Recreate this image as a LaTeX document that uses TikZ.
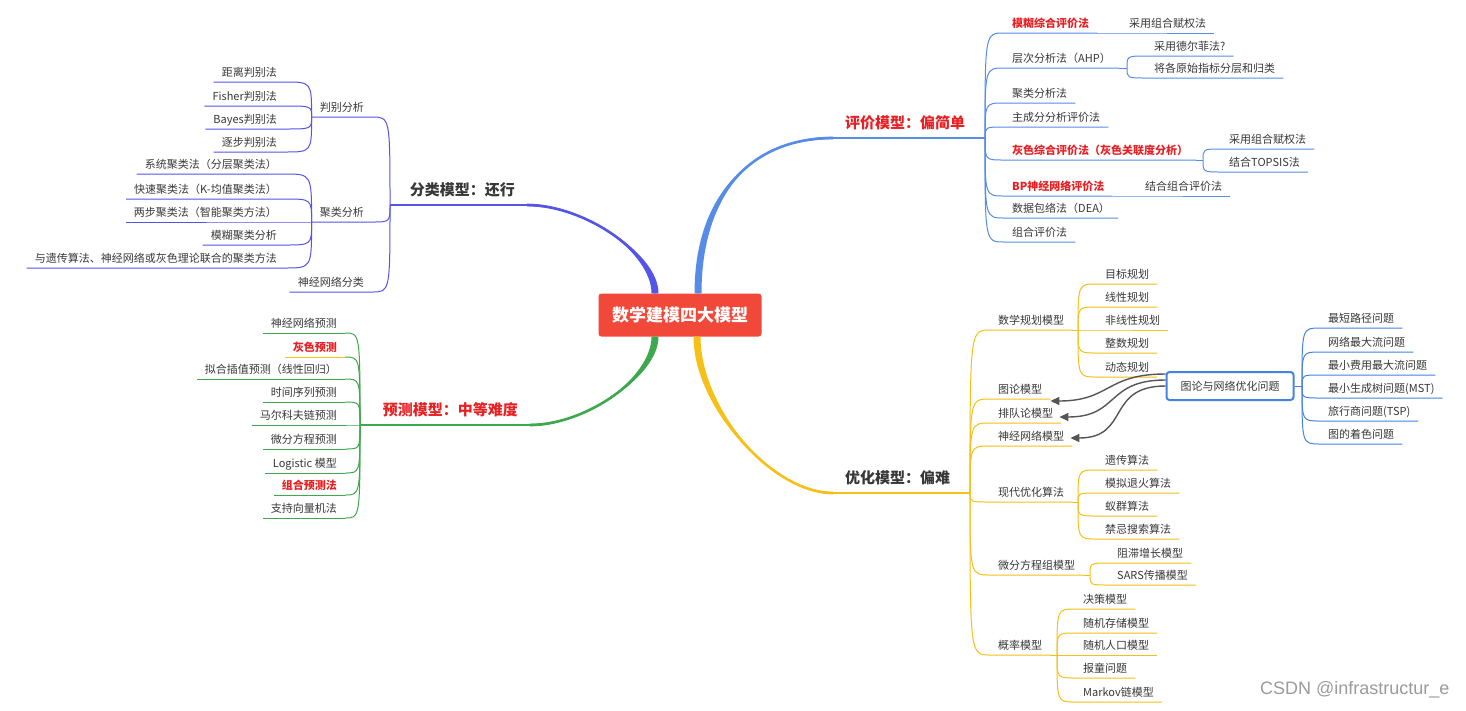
\documentclass[tikz,border=0pt]{standalone}
\usepackage{fontspec}
\setmainfont{Noto Sans CJK SC}
\newfontfamily\markfont{Liberation Sans}
\usetikzlibrary{arrows.meta,calc}

\definecolor{clsline}{RGB}{84,84,232}
\definecolor{evline}{RGB}{86,140,230}
\definecolor{prline}{RGB}{62,168,78}
\definecolor{opline}{RGB}{246,192,24}
\definecolor{boxline}{RGB}{70,130,225}
\definecolor{hotred}{RGB}{232,32,36}
\definecolor{txt}{RGB}{56,56,56}
\definecolor{rootfill}{RGB}{242,72,58}
\definecolor{linkgray}{RGB}{85,85,85}

\tikzset{
  leaf/.style={inner xsep=8pt,inner ysep=3pt,text height=8pt,text depth=2pt,
    text=txt,font=\fontsize{11}{13}\selectfont},
  leafL/.style={leaf,anchor=south east},
  leafR/.style={leaf,anchor=south west},
  hot/.style={text=hotred,font=\fontsize{11}{13}\selectfont\bfseries},
  branch/.style={inner xsep=12pt,inner ysep=6pt,text height=11pt,text depth=3pt,
    text=txt,font=\fontsize{15}{18}\selectfont\bfseries},
  trunk/.style={line width=2.6pt},
  twig/.style={line width=1pt},
  stem/.style={line width=1.3pt},
  link/.style={linkgray,line width=1.4pt,-{Triangle[length=9pt,width=8pt]}},
}

\begin{document}
\begin{tikzpicture}[x=1pt,y=-1pt]
% 1466 x 710, y grows downwards
\fill[white] (0,0) rectangle (1466,710);
\useasboundingbox (0,0) rectangle (1466,710);

\node[fill=rootfill,rounded corners=3pt,minimum width=163pt,minimum height=43pt,
  text=white,font=\fontsize{17}{20}\selectfont\bfseries] (root) at (680,315) {数学建模四大模型};
\coordinate (tC) at ([xshift=-25pt]root.north);
\coordinate (tE) at ([xshift=18pt]root.north);
\coordinate (tP) at ([xshift=-25pt]root.south);
\coordinate (tO) at ([xshift=17pt]root.south);

% classification
\node[branch,anchor=south east] (cls) at (527,205) {分类模型：还行};
\coordinate (hC) at (390,205);
\coordinate (tC1) at ([xshift=-3.5pt]tC);
\coordinate (tC2) at ([xshift=3.5pt]tC);
\coordinate (eC1) at ([yshift=1.2pt]cls.south east);
\coordinate (eC2) at ([yshift=-1.2pt]cls.south east);
\coordinate (kC) at (tC |- cls.south east);
\coordinate (kC1) at (tC1 |- eC1);
\coordinate (kC2) at (tC2 |- eC2);
\fill[clsline] (tC1) .. controls ($(tC1)!.45!(kC1)$) and ($(eC1)!.45!(kC1)$) .. (eC1)
  -- (eC2) .. controls ($(eC2)!.45!(kC2)$) and ($(tC2)!.45!(kC2)$) .. (tC2) -- cycle;
\draw[trunk,clsline] (tC) .. controls ($(tC)!.45!(kC)$) and ($(cls.south east)!.45!(kC)$) .. (cls.south east);
\draw[stem,clsline] (cls.south east) -- (hC);
\node[leafL] (a1) at (372,117) {判别分析};
\node[leafL] (a11) at (285,82) {距离判别法};
\node[leafL] (a12) at (285,106) {Fisher判别法};
\node[leafL] (a13) at (285,129) {Bayes判别法};
\node[leafL] (a14) at (285,152) {逐步判别法};
\node[leafL] (a2) at (372,222) {聚类分析};
\node[leafL] (a21) at (285,174) {系统聚类法（分层聚类法）};
\node[leafL] (a22) at (285,199) {快速聚类法（K-均值聚类法）};
\node[leafL] (a23) at (285,222) {两步聚类法（智能聚类方法）};
\node[leafL] (a24) at (285,245) {模糊聚类分析};
\node[leafL] (a25) at (285,268) {与遗传算法、神经网络或灰色理论联合的聚类方法};
\node[leafL] (a3) at (372,292) {神经网络分类};
\coordinate (ha1) at (a1.south west);
\coordinate (ha2) at (a2.south west);
\foreach \h/\c in {hC/a1,hC/a2,hC/a3,ha1/a11,ha1/a12,ha1/a13,ha1/a14,
    ha2/a21,ha2/a22,ha2/a23,ha2/a24,ha2/a25}
  \draw[twig,clsline] (\h) .. controls (\h |- \c.south east) .. (\c.south east) -- (\c.south west);

% prediction
\node[branch,anchor=south east,text=hotred] (pr) at (530,425) {预测模型：中等难度};
\coordinate (hP) at (360,425);
\coordinate (tP1) at ([xshift=-3.5pt]tP);
\coordinate (tP2) at ([xshift=3.5pt]tP);
\coordinate (eP1) at ([yshift=-1.2pt]pr.south east);
\coordinate (eP2) at ([yshift=1.2pt]pr.south east);
\coordinate (kP) at (tP |- pr.south east);
\coordinate (kP1) at (tP1 |- eP1);
\coordinate (kP2) at (tP2 |- eP2);
\fill[prline] (tP1) .. controls ($(tP1)!.45!(kP1)$) and ($(eP1)!.45!(kP1)$) .. (eP1)
  -- (eP2) .. controls ($(eP2)!.45!(kP2)$) and ($(tP2)!.45!(kP2)$) .. (tP2) -- cycle;
\draw[trunk,prline] (tP) .. controls ($(tP)!.45!(kP)$) and ($(pr.south east)!.45!(kP)$) .. (pr.south east);
\draw[stem,prline] (pr.south east) -- (hP);
\node[leafL] (c1) at (345,333) {神经网络预测};
\node[leafL,hot] (c2) at (345,357) {灰色预测};
\node[leafL] (c3) at (345,379) {拟合插值预测（线性回归）};
\node[leafL] (c4) at (345,402) {时间序列预测};
\node[leafL] (c5) at (345,425) {马尔科夫链预测};
\node[leafL] (c6) at (345,449) {微分方程预测};
\node[leafL] (c7) at (345,473) {Logistic 模型};
\node[leafL,hot] (c8) at (345,495) {组合预测法};
\node[leafL] (c9) at (345,518) {支持向量机法};
\foreach \c in {c1,c2,c3,c4,c5,c6,c7,c8,c9}
  \draw[twig,prline] (hP) .. controls (hP |- \c.south east) .. (\c.south east);
\foreach \c in {c1,c3,c4,c5,c6,c7,c8,c9}
  \draw[twig,prline] (\c.south east) -- (\c.south west);
\draw[twig,opline] (c2.south east) -- (c2.south west);

% evaluation
\node[branch,anchor=south west,text=hotred] (ev) at (833,138) {评价模型：偏简单};
\coordinate (hE) at (985,138);
\coordinate (tE1) at ([xshift=3.5pt]tE);
\coordinate (tE2) at ([xshift=-3.5pt]tE);
\coordinate (eE1) at ([yshift=1.2pt]ev.south west);
\coordinate (eE2) at ([yshift=-1.2pt]ev.south west);
\coordinate (kE) at (tE |- ev.south west);
\coordinate (kE1) at (tE1 |- eE1);
\coordinate (kE2) at (tE2 |- eE2);
\fill[evline] (tE1) .. controls ($(tE1)!.62!(kE1)$) and ($(eE1)!.62!(kE1)$) .. (eE1)
  -- (eE2) .. controls ($(eE2)!.62!(kE2)$) and ($(tE2)!.62!(kE2)$) .. (tE2) -- cycle;
\draw[trunk,evline] (tE) .. controls ($(tE)!.62!(kE)$) and ($(ev.south west)!.62!(kE)$) .. (ev.south west);
\draw[stem,evline] (ev.south west) -- (hE);
\node[leafR,hot] (b1) at (1004,33) {模糊综合评价法};
\node[leafR] (b11) at (1121,33) {采用组合赋权法};
\node[leafR] (b2) at (1004,68) {层次分析法（AHP）};
\node[leafR] (b21) at (1146,56) {采用德尔菲法?};
\node[leafR] (b22) at (1146,78) {将各原始指标分层和归类};
\node[leafR] (b3) at (1004,103) {聚类分析法};
\node[leafR] (b4) at (1004,127) {主成分分析评价法};
\node[leafR,hot] (b5) at (1004,160) {灰色综合评价法（灰色关联度分析）};
\node[leafR] (b51) at (1221,149) {采用组合赋权法};
\node[leafR] (b52) at (1221,172) {结合TOPSIS法};
\node[leafR,hot] (b6) at (1004,196) {BP神经网络评价法};
\node[leafR] (b61) at (1137,196) {结合组合评价法};
\node[leafR] (b7) at (1004,218) {数据包络法（DEA）};
\node[leafR] (b8) at (1004,242) {组合评价法};
\coordinate (hb2) at (1127,68);
\coordinate (hb5) at (1203,160);
\draw[twig,evline] (b2.south east) -- (hb2);
\draw[twig,evline] (b5.south east) -- (hb5);
\draw[twig,evline] (b1.south east) -- (b11.south west) -- (b11.south east);
\draw[twig,evline] (b6.south east) -- (b61.south west) -- (b61.south east);
\foreach \h/\c in {hE/b1,hE/b2,hE/b3,hE/b4,hE/b5,hE/b6,hE/b7,hE/b8,
    hb2/b21,hb2/b22,hb5/b51,hb5/b52}
  \draw[twig,evline] (\h) .. controls (\h |- \c.south west) .. (\c.south west) -- (\c.south east);

% optimization
\node[branch,anchor=south west] (op) at (833,493) {优化模型：偏难};
\coordinate (hO) at (970,493);
\coordinate (tO1) at ([xshift=3.5pt]tO);
\coordinate (tO2) at ([xshift=-3.5pt]tO);
\coordinate (eO1) at ([yshift=-1.2pt]op.south west);
\coordinate (eO2) at ([yshift=1.2pt]op.south west);
\coordinate (kO) at (tO |- op.south west);
\coordinate (kO1) at (tO1 |- eO1);
\coordinate (kO2) at (tO2 |- eO2);
\fill[opline] (tO1) .. controls ($(tO1)!.45!(kO1)$) and ($(eO1)!.45!(kO1)$) .. (eO1)
  -- (eO2) .. controls ($(eO2)!.45!(kO2)$) and ($(tO2)!.45!(kO2)$) .. (tO2) -- cycle;
\draw[trunk,opline] (tO) .. controls ($(tO)!.45!(kO)$) and ($(op.south west)!.45!(kO)$) .. (op.south west);
\draw[stem,opline] (op.south west) -- (hO);
\node[leafR] (d1) at (990,330) {数学规划模型};
\node[leafR] (d11) at (1097,284) {目标规划};
\node[leafR] (d12) at (1097,307) {线性规划};
\node[leafR] (d13) at (1097,330) {非线性规划};
\node[leafR] (d14) at (1097,353) {整数规划};
\node[leafR] (d15) at (1097,377) {动态规划};
\node[leafR] (d2) at (990,399) {图论模型};
\node[leafR] (d3) at (990,423) {排队论模型};
\node[leafR] (d4) at (990,446) {神经网络模型};
\node[leafR] (d5) at (990,502) {现代优化算法};
\node[leafR] (d51) at (1097,470) {遗传算法};
\node[leafR] (d52) at (1097,493) {模拟退火算法};
\node[leafR] (d53) at (1097,516) {蚁群算法};
\node[leafR] (d54) at (1097,539) {禁忌搜索算法};
\node[leafR] (d6) at (990,575) {微分方程组模型};
\node[leafR] (d61) at (1109,563) {阻滞增长模型};
\node[leafR] (d62) at (1109,585) {SARS传播模型};
\node[leafR] (d7) at (990,655) {概率模型};
\node[leafR] (d71) at (1075,609) {决策模型};
\node[leafR] (d72) at (1075,633) {随机存储模型};
\node[leafR] (d73) at (1075,655) {随机人口模型};
\node[leafR] (d74) at (1075,678) {报童问题};
\node[leafR] (d75) at (1075,702) {Markov链模型};
\coordinate (hd1) at (1078,330);
\coordinate (hd5) at (1078,502);
\coordinate (hd6) at (1090,575);
\coordinate (hd7) at (1057,655);
\foreach \n/\h in {d1/hd1,d5/hd5,d6/hd6,d7/hd7}
  \draw[twig,opline] (\n.south east) -- (\h);
\foreach \h/\c in {hO/d1,hO/d2,hO/d3,hO/d4,hO/d5,hO/d6,hO/d7,
    hd1/d11,hd1/d12,hd1/d13,hd1/d14,hd1/d15,hd5/d51,hd5/d52,hd5/d53,hd5/d54,
    hd6/d61,hd6/d62,hd7/d71,hd7/d72,hd7/d73,hd7/d74,hd7/d75}
  \draw[twig,opline] (\h) .. controls (\h |- \c.south west) .. (\c.south west) -- (\c.south east);

% graph / network problems
\node[draw=boxline,line width=2pt,rounded corners=3pt,fill=white,minimum width=127pt,
  minimum height=28pt,text=txt,font=\fontsize{11}{13}\selectfont] (g0) at (1230,386) {图论与网络优化问题};
\coordinate (hg) at (1302,386);
\draw[twig,boxline] (g0.east) -- (hg);
\node[leafR] (g1) at (1320,328) {最短路径问题};
\node[leafR] (g2) at (1320,352) {网络最大流问题};
\node[leafR] (g3) at (1320,375) {最小费用最大流问题};
\node[leafR] (g4) at (1320,398) {最小生成树问题(MST)};
\node[leafR] (g5) at (1320,421) {旅行商问题(TSP)};
\node[leafR] (g6) at (1320,444) {图的着色问题};
\foreach \c in {g1,g2,g3,g4,g5,g6}
  \draw[twig,boxline] (hg) .. controls (hg |- \c.south west) .. (\c.south west) -- (\c.south east);
\draw[link] ([yshift=12pt]g0.west) .. controls +(-60,0) and +(60,0) .. ([yshift=-2pt]d2.south east);
\draw[link] ([yshift=6pt]g0.west) .. controls +(-60,0) and +(60,0) .. ([xshift=-2pt,yshift=6pt]d3.south east);
\draw[link] ([yshift=0pt]g0.west) .. controls +(-60,0) and +(60,0) .. ([xshift=-2pt,yshift=8pt]d4.south east);

\node[text={rgb,255:red,155;green,155;blue,155},font=\markfont\fontsize{18}{21}\selectfont,
  anchor=east] (mark) at (1453,690) {CSDN @infrastructur\_e};
\end{tikzpicture}
\end{document}
